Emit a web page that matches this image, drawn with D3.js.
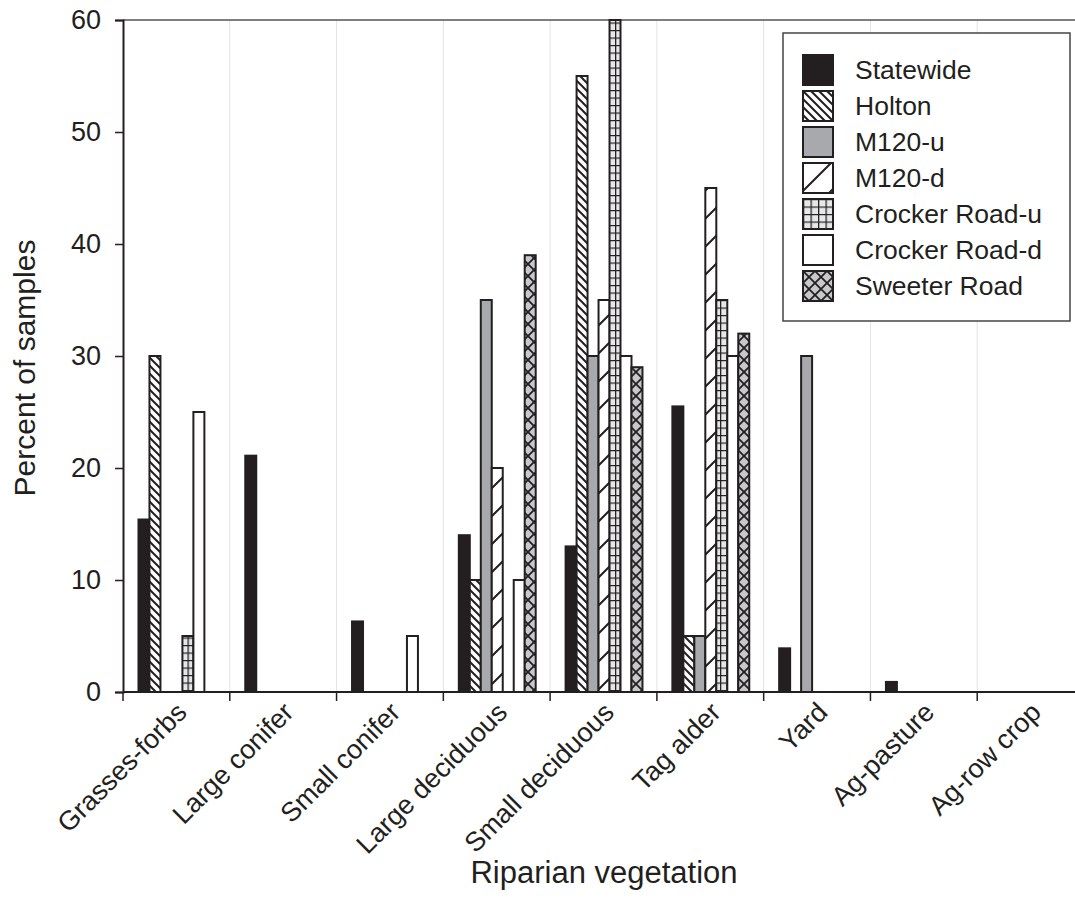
<!DOCTYPE html>
<html>
<head>
<meta charset="utf-8">
<script src="https://cdn.jsdelivr.net/npm/d3@7"></script>
<style>
  body { margin: 0; background: #fff; }
  svg text { font-family: "Liberation Sans", Arial, Helvetica, sans-serif; fill: #231f20; }
</style>
</head>
<body>
<div id="chart"></div>
<script>
// categories and series
const categories = ['Grasses-forbs', 'Large conifer', 'Small conifer', 'Large deciduous',
    'Small deciduous', 'Tag alder', 'Yard', 'Ag-pasture', 'Ag-row crop'];
const series = ['Statewide', 'Holton', 'M120-u', 'M120-d', 'Crocker Road-u', 'Crocker Road-d', 'Sweeter Road'];

const statewide = [15.4, 21.1, 6.3, 14, 13, 25.5, 3.9, 0.9, 0];
const holton = [30, 0, 0, 10, 55, 5, 0, 0, 0];
const m120u = [0, 0, 0, 35, 30, 5, 30, 0, 0];
const m120d = [0, 0, 0, 20, 35, 45, 0, 0, 0];
const crockerU = [5, 0, 0, 0, 60, 35, 0, 0, 0];
const crockerD = [25, 0, 5, 10, 30, 30, 0, 0, 0];
const sweeter = [0, 0, 0, 39, 29, 32, 0, 0, 0];

const yTicks = [0, 10, 20, 30, 40, 50, 60];

const seriesValues = [statewide, holton, m120u, m120d, crockerU, crockerD, sweeter];

const W = 1075, H = 901;
const margin = { left: 123, top: 20, bottom: 209 };
const plotRight = 1084;
const ink = '#231f20';

const svg = d3.select('#chart').append('svg')
    .attr('width', W)
    .attr('height', H);

// fill patterns
const defs = svg.append('defs');

function makePattern(id, size, bg, path, sw) {
    var p = defs.append('pattern')
        .attr('id', id)
        .attr('patternUnits', 'userSpaceOnUse')
        .attr('width', size)
        .attr('height', size);
    p.append('rect').attr('width', size).attr('height', size).attr('fill', bg);
    p.append('path').attr('d', path).attr('stroke', ink).attr('stroke-width', sw).attr('fill', 'none');
}

makePattern('p-holton', 8, '#fff', 'M-2,-2L10,10M-2,6L2,10M6,-2L10,2', 2);
makePattern('p-m120d', 28, '#fff', 'M-2,30L30,-2M-4,4L4,-4M24,32L32,24', 2);
makePattern('p-crockeru', 7.5, '#e6e7e8', 'M0,0H7.5M0,0V7.5', 2.5);
makePattern('p-sweeter', 12, '#c7c8ca', 'M0,0L12,12M12,0L0,12', 1.8);

const fills = [ink, 'url(#p-holton)', '#a7a9ac', 'url(#p-m120d)', 'url(#p-crockeru)', '#fff', 'url(#p-sweeter)'];

const x0 = d3.scaleBand()
    .domain(categories)
    .range([margin.left, plotRight])
    .padding(0);

const x1 = d3.scaleBand()
    .domain(series)
    .range([0, x0.bandwidth() * 0.72]);

const groupOffset = x0.bandwidth() * 0.145;

const y = d3.scaleLinear()
    .domain([0, 60])
    .range([H - margin.bottom, margin.top]);

// light vertical gridlines at category boundaries
svg.append('g')
    .selectAll('line')
    .data(categories.slice(1))
    .enter()
    .append('line')
    .attr('x1', d => x0(d))
    .attr('x2', d => x0(d))
    .attr('y1', y(60))
    .attr('y2', y(0))
    .attr('stroke', '#e3e3e3')
    .attr('stroke-width', 1);

// top frame line
svg.append('line')
    .attr('x1', margin.left)
    .attr('x2', plotRight)
    .attr('y1', y(60))
    .attr('y2', y(60))
    .attr('stroke', '#555')
    .attr('stroke-width', 1.5);

// bars
const barData = [];
seriesValues.forEach((vals, si) => {
    vals.forEach((v, ci) => {
        if (v > 0) barData.push({ s: series[si], si: si, cat: categories[ci], v: v });
    });
});

svg.append('g')
    .selectAll('rect')
    .data(barData)
    .enter()
    .append('rect')
    .attr('x', d => x0(d.cat) + groupOffset + x1(d.s))
    .attr('y', d => y(d.v))
    .attr('width', x1.bandwidth())
    .attr('height', d => y(0) - y(d.v))
    .attr('fill', d => fills[d.si])
    .attr('stroke', ink)
    .attr('stroke-width', 2);

// y axis
const yAxis = svg.append('g')
    .attr('transform', 'translate(' + margin.left + ',0)')
    .call(d3.axisLeft(y).tickValues(yTicks).tickSize(8).tickPadding(14));
yAxis.select('.domain').attr('stroke', ink).attr('stroke-width', 2);
yAxis.selectAll('.tick line').attr('stroke', ink).attr('stroke-width', 1.5);
yAxis.selectAll('.tick text')
    .attr('font-size', 27)
    .attr('font-family', '"Liberation Sans", Arial, sans-serif')
    .attr('fill', ink);

// x axis: ticks at category boundaries
const xAxis = svg.append('g')
    .attr('transform', 'translate(0,' + y(0) + ')');
xAxis.append('line')
    .attr('x1', margin.left)
    .attr('x2', plotRight)
    .attr('stroke', ink)
    .attr('stroke-width', 2);
xAxis.selectAll('.xtick')
    .data(categories)
    .enter()
    .append('line')
    .attr('class', 'xtick')
    .attr('x1', d => x0(d))
    .attr('x2', d => x0(d))
    .attr('y1', 0)
    .attr('y2', 9)
    .attr('stroke', ink)
    .attr('stroke-width', 1.5);

xAxis.selectAll('.xlabel')
    .data(categories)
    .enter()
    .append('text')
    .attr('class', 'xlabel')
    .attr('text-anchor', 'end')
    .attr('font-size', 27)
    .attr('transform', d => 'translate(' + (x0(d) + x0.bandwidth() / 2 + 12) + ',22) rotate(-45)')
    .text(d => d);

// axis titles
svg.append('text')
    .attr('text-anchor', 'middle')
    .attr('font-size', 30)
    .attr('transform', 'translate(35,' + ((y(0) + y(60)) / 2 + 12) + ') rotate(-90)')
    .text('Percent of samples');

svg.append('text')
    .attr('text-anchor', 'middle')
    .attr('font-size', 31)
    .attr('x', 604)
    .attr('y', 883)
    .text('Riparian vegetation');

// legend
const legend = svg.append('g').attr('transform', 'translate(783,33)');
legend.append('rect')
    .attr('width', 287)
    .attr('height', 288)
    .attr('fill', '#fff')
    .attr('stroke', '#444')
    .attr('stroke-width', 1.5);

const rows = legend.selectAll('.row')
    .data(series)
    .enter()
    .append('g')
    .attr('class', 'row')
    .attr('transform', (d, i) => 'translate(20,' + (22 + i * 36) + ')');

rows.append('rect')
    .attr('width', 30)
    .attr('height', 30)
    .attr('fill', (d, i) => fills[i])
    .attr('stroke', ink)
    .attr('stroke-width', 2);

rows.append('text')
    .attr('x', 52)
    .attr('y', 24)
    .attr('font-size', 26.5)
    .text(d => d);
</script>
</body>
</html>
